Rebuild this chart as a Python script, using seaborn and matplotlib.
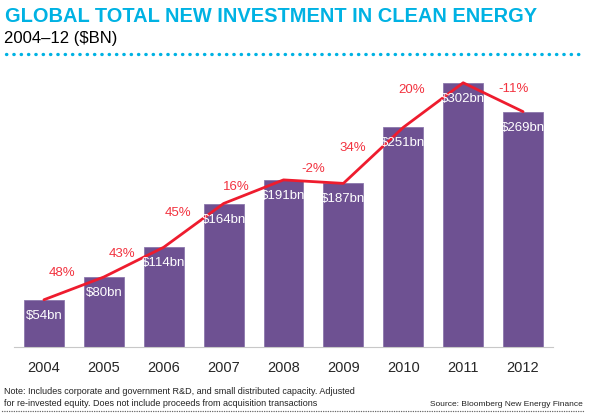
import numpy as np
import matplotlib
matplotlib.use("Agg")
import matplotlib.pyplot as plt
import seaborn as sns

years = ["2004", "2005", "2006", "2007", "2008", "2009", "2010", "2011", "2012"]
investment = [54, 80, 114, 164, 191, 187, 251, 302, 269]
value_labels = ["$54bn", "$80bn", "$114bn", "$164bn", "$191bn", "$187bn", "$251bn", "$302bn", "$269bn"]
growth_labels = ["48%", "43%", "45%", "16%", "-2%", "34%", "20%", "-11%"]

# label nudges (pixels) for the growth text, relative to each segment midpoint
growth_nudge = [(-12, 15), (-12, 8), (-16, 12), (-17, 5), (0, 13), (-21, 7), (-22, 15), (20, 8)]

purple = "#6E5192"
red = "#EE1C2E"
cyan = "#00B2E3"

sns.set_style("white")
plt.rcParams["font.family"] = ["Liberation Sans", "DejaVu Sans"]

fig = plt.figure(figsize=(5.94, 4.18), dpi=100)
ax = fig.add_axes([14 / 594, 71 / 418, 539 / 594, 277 / 418])

sns.barplot(x=years, y=investment, color=purple, width=0.667, saturation=1,
            edgecolor="#8C78AC", linewidth=0.6, ax=ax)
sns.lineplot(x=np.arange(len(years)), y=investment, color=red, linewidth=2, ax=ax)

for i, lab in enumerate(value_labels):
    ax.annotate(lab, (i, investment[i]), xytext=(0, -16), textcoords="offset pixels",
                ha="center", va="center", color="white", fontsize=9.5)

for i, lab in enumerate(growth_labels):
    mx = i + 0.5
    my = (investment[i] + investment[i + 1]) / 2
    dx, dy = growth_nudge[i]
    ax.annotate(lab, (mx, my), xytext=(dx, dy), textcoords="offset pixels",
                ha="center", va="center", color="#F2323F", fontsize=9.5)

ax.set_xlim(-0.5, len(years) - 0.5)
ax.set_ylim(0, 316.6)
ax.set_yticks([])
ax.set_xlabel("")
ax.set_ylabel("")
for s in ["left", "right", "top"]:
    ax.spines[s].set_visible(False)
ax.spines["bottom"].set_color("#C8C8C8")
ax.set_xticks(np.arange(len(years)))
ax.set_xticklabels(years, fontsize=10.5)
ax.tick_params(axis="x", length=0, pad=10)
ax.set_xticks(np.arange(len(years) + 1) - 0.5, minor=True)
ax.tick_params(axis="x", which="minor", length=5, color="#C8C8C8", width=1, direction="out")

fig.text(5 / 594, 1 - 16 / 418, "GLOBAL TOTAL NEW INVESTMENT IN CLEAN ENERGY",
         color=cyan, fontsize=14.4, fontweight="bold", va="center", ha="left")
fig.text(4 / 594, 1 - 39 / 418, "2004\u201312 ($BN)", color="black", fontsize=12,
         va="center", ha="left")

# dotted rules
fig.add_artist(plt.Line2D([6 / 594, 583 / 594], [1 - 54 / 418] * 2, color=cyan,
                          linestyle=(0, (0.1, 2.1)), linewidth=2.4, dash_capstyle="round"))
fig.add_artist(plt.Line2D([2 / 594, 583 / 594], [1 - 411 / 418] * 2, color="#666666",
                          linestyle=(0, (0.1, 1.6)), linewidth=1.0, dash_capstyle="round"))

note_font = dict(fontsize=6.5, color="#222222", va="center", ha="left")
fig.text(4 / 594, 1 - 392 / 418,
         "Note: Includes corporate and government R&D, and small distributed capacity. Adjusted",
         **note_font)
fig.text(4 / 594, 1 - 403 / 418,
         "for re-invested equity. Does not include proceeds from acquisition transactions",
         **note_font)
fig.text(583 / 594, 1 - 404 / 418, "Source: Bloomberg New Energy Finance",
         fontsize=6.0, color="#222222", va="center", ha="right")

fig.savefig("out.png", dpi=100)
